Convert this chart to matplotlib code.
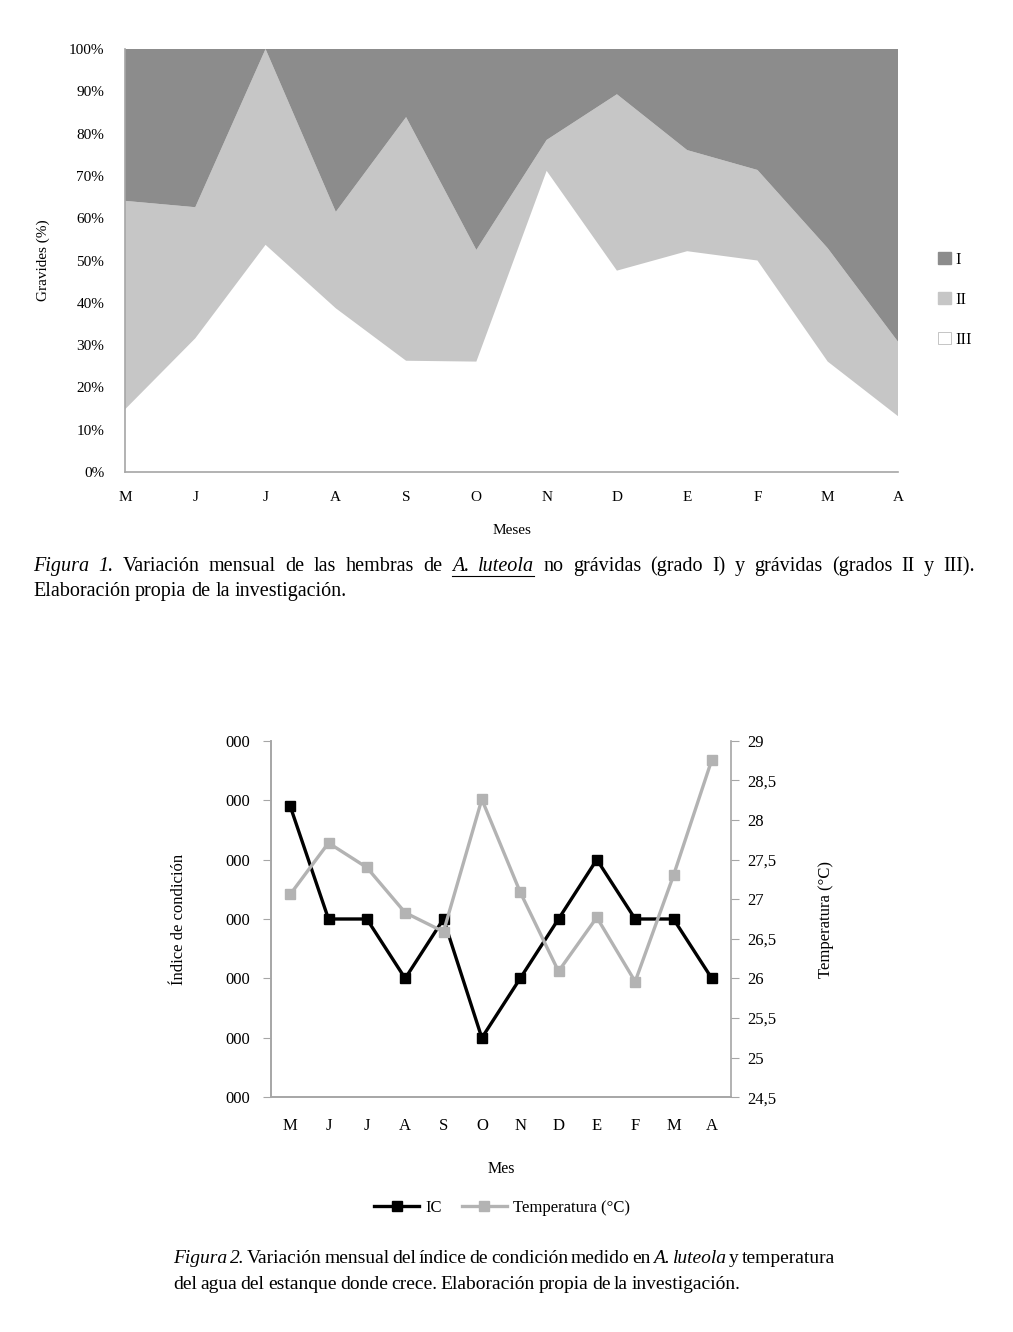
import matplotlib
matplotlib.use('Agg')
import matplotlib.pyplot as plt
from matplotlib.patches import Patch
from matplotlib.lines import Line2D

plt.rcParams['font.family'] = ['Liberation Serif', 'DejaVu Serif']
plt.rcParams['font.size'] = 11

# datos
meses = ['M', 'J', 'J', 'A', 'S', 'O', 'N', 'D', 'E', 'F', 'M', 'A']

# figura 1: % de hembras por grado
grado_I = [35.9, 37.4, 0.0, 38.5, 16.1, 47.5, 21.5, 10.7, 23.9, 28.6, 47.1, 69.2]
grado_II = [49.3, 31.0, 46.3, 22.8, 57.6, 26.4, 7.3, 41.7, 23.9, 21.4, 26.8, 17.6]
grado_III = [14.8, 31.6, 53.7, 38.7, 26.3, 26.1, 71.2, 47.6, 52.2, 50.0, 26.1, 13.2]

# figura 2: indice de condicion (en unidades de marca) y temperatura
ic = [4.9, 3, 3, 2, 3, 1, 2, 3, 4, 3, 3, 2]
temperatura = [27.06, 27.71, 27.40, 26.83, 26.59, 28.26, 27.09, 26.09, 26.77, 25.96, 27.30, 28.76]
ic_ticks = [0, 1, 2, 3, 4, 5, 6]
temp_ticks = [24.5, 25, 25.5, 26, 26.5, 27, 27.5, 28, 28.5, 29]

W, H = 1013, 1332
GRIS_EJE = '#a6a6a6'
OSCURO = '#8c8c8c'
CLARO = '#c6c6c6'

fig = plt.figure(figsize=(W / 100, H / 100), dpi=100)


def caja(x0, y0, x1, y1):
    return [x0 / W, 1 - y1 / H, (x1 - x0) / W, (y1 - y0) / H]


# ---- Figura 1 ----
ax1 = fig.add_axes(caja(125, 49, 898, 472))
x = list(range(len(meses)))
polys = ax1.stackplot(x, grado_III, grado_II, grado_I,
                      colors=['white', CLARO, OSCURO])
for p in polys:
    p.set_linewidth(0)
ax1.set_xlim(0, len(meses) - 1)
ax1.set_ylim(0, 100)
ax1.set_yticks(range(0, 101, 10))
ax1.set_yticklabels(['{}%'.format(v) for v in range(0, 101, 10)])
ax1.set_xticks(x)
ax1.set_xticklabels(meses)
ax1.tick_params(axis='y', length=0, pad=15)
ax1.tick_params(axis='x', length=0, pad=14)
for s in ['top', 'right']:
    ax1.spines[s].set_visible(False)
for s in ['left', 'bottom']:
    ax1.spines[s].set_color(GRIS_EJE)
    ax1.spines[s].set_linewidth(1.2)
ax1.set_ylabel('Gravides (%)')
ax1.yaxis.set_label_coords(-0.097, 0.5)
ax1.set_xlabel('Meses')
ax1.xaxis.set_label_coords(0.5, -0.122)

fig.legend(handles=[Patch(fc=OSCURO, ec=OSCURO, label='I'),
                    Patch(fc=CLARO, ec=CLARO, label='II'),
                    Patch(fc='white', ec='#bbbbbb', lw=0.6, label='III')],
           loc='center left', bbox_to_anchor=(923 / W, 1 - 300 / H),
           frameon=False, handlelength=0.75, handleheight=0.75,
           handletextpad=0.3, labelspacing=1.45, fontsize=12)

# ---- Figura 2 ----
ax2 = fig.add_axes(caja(271, 740.7, 731, 1097.3))
ax2.plot(x, ic, color='black', lw=2.4, marker='s', ms=6.5, zorder=3)
ax2.set_xlim(-0.5, len(meses) - 0.5)
ax2.set_ylim(0, 6)
ax2.set_yticks(ic_ticks)
ax2.set_yticklabels(['000'] * len(ic_ticks))
ax2.set_xticks(x)
ax2.set_xticklabels(meses)
ax2.tick_params(axis='both', labelsize=12)
ax2.tick_params(axis='y', length=6, color=GRIS_EJE, pad=9)
ax2.tick_params(axis='x', length=0, pad=15)
ax2.set_ylabel('Índice de condición', fontsize=12)
ax2.yaxis.set_label_coords(-0.183, 0.5)
ax2.set_xlabel('Mes', fontsize=11.5)
ax2.xaxis.set_label_coords(0.5, -0.179)

ax3 = ax2.twinx()
ax3.plot(x, temperatura, color='#b3b3b3', lw=2.4, marker='s', ms=6.5)
ax3.set_ylim(24.5, 29)
ax3.set_yticks(temp_ticks)
ax3.set_yticklabels([str(int(t)) if t == int(t) else str(t).replace('.', ',')
                     for t in temp_ticks])
ax3.tick_params(axis='y', length=6, color=GRIS_EJE, pad=6, labelsize=12)
ax3.set_ylabel('Temperatura (°C)', fontsize=12)
ax3.yaxis.set_label_coords(1.189, 0.5)

for a in [ax2, ax3]:
    a.spines['top'].set_visible(False)
    for s in ['left', 'right', 'bottom']:
        a.spines[s].set_color(GRIS_EJE)
        a.spines[s].set_linewidth(1.2)
ax2.spines['right'].set_visible(False)

fig.legend(handles=[Line2D([], [], color='black', lw=2.4, marker='s', ms=6.5, label='IC'),
                    Line2D([], [], color='#b3b3b3', lw=2.4, marker='s', ms=6.5,
                           label='Temperatura (°C)')],
           loc='center', bbox_to_anchor=(502 / W, 1 - 1208 / H), ncol=2,
           frameon=False, handlelength=2.7, handletextpad=0.35,
           columnspacing=1.2, numpoints=1, fontsize=12)

# ---- pies de figura ----
renderer = fig.canvas.get_renderer()


def texto(x0, y, runs, ancho=None, size=12.5, hueco=None):
    palabras = []
    for s, kw in runs:
        for w in s.split(' '):
            if w:
                palabras.append((w, kw))
    objs = []
    total = 0
    for w, kw in palabras:
        k = dict(kw)
        k.pop('u', None)
        t = fig.text(0, 0, w, fontsize=size, va='baseline', **k)
        wd = t.get_window_extent(renderer).width
        objs.append((t, wd, kw.get('u', False)))
        total += wd
    if hueco is None:
        hueco = size * 0.25 * 100 / 72
    if ancho is not None and len(objs) > 1:
        hueco = (ancho - total) / (len(objs) - 1)
    xc = x0
    sub = []
    for t, wd, u in objs:
        t.set_position((xc / W, 1 - y / H))
        if u:
            sub.append((xc, xc + wd))
        xc += wd + hueco
    if sub:
        fig.add_artist(Line2D([sub[0][0] / W, sub[-1][1] / W],
                              [1 - (y + 5) / H] * 2, color='black', lw=0.8))


it = {'style': 'italic'}
n = {}
texto(33, 571, [('Figura 1.', it),
                ('Variación mensual de las hembras de', n),
                ('A. luteola', {'style': 'italic', 'u': True}),
                ('no grávidas (grado I) y grávidas (grados II y III).', n)],
      ancho=975 - 33, size=14.5)
texto(33, 596, [('Elaboración propia de la investigación.', n)], size=14.5)

texto(173, 1263, [('Figura 2.', it),
                  ('Variación mensual del índice de condición medido en', n),
                  ('A. luteola', it),
                  ('y temperatura', n)], ancho=835 - 173, size=14)
texto(173, 1289, [('del agua del estanque donde crece. Elaboración propia de la investigación.', n)],
      size=14, hueco=3.5)

fig.savefig('out.png', dpi=100)
